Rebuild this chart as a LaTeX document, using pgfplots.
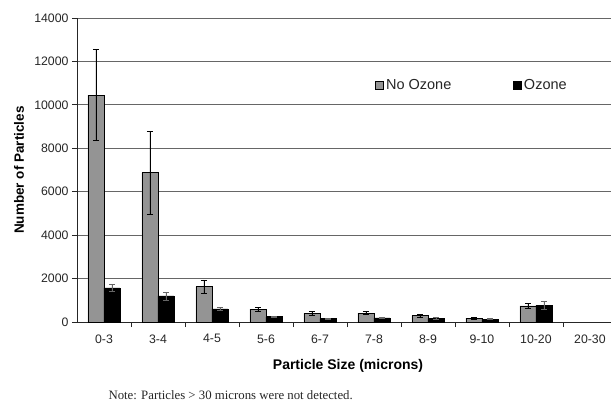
\documentclass[border=0pt]{standalone}
\usepackage{fontspec}
\setmainfont{Liberation Sans}
\newfontfamily\notefont{Liberation Serif}
\usepackage{pgfplots}
\pgfplotsset{compat=1.18}
\usepackage{pgfplotstable}

\pgfplotstableread{
x y e
0 10450 2100
1 6870 1900
2 1620 320
3 590 90
4 400 90
5 410 80
6 290 60
7 180 50
8 740 110
}\noozone
\pgfplotstableread{
x y e
0 1570 180
1 1200 180
2 600 60
3 240 30
4 150 20
5 190 30
6 170 30
7 130 20
8 770 180
}\ozone

\pgfplotsset{sqleg/.style={legend image code/.code={\draw[##1,draw=black,line width=0.6pt] (0pt,-4pt) rectangle (8pt,4pt);}}}

\begin{document}
\begin{tikzpicture}
\begin{axis}[
  scale only axis, width=534pt, height=304pt,
  xmin=-0.5, xmax=9.39, ymin=0, ymax=14000,
  clip=false,
  ybar=0pt, bar width=16pt,
  axis x line*=bottom, axis y line*=left,
  axis line style={-, black!85, line width=0.8pt},
  ytick={0,2000,...,14000},
  scaled y ticks=false,
  ymajorgrids,
  major grid style={black!60, line width=0.9pt},
  xtick={0,...,9},
  xticklabels={0-3,3-4,4-5,5-6,6-7,7-8,8-9,9-10,10-20,20-30},
  major x tick style={draw=none},
  minor xtick={0.5,1.5,...,8.5},
  minor x tick style={black!85, line width=0.8pt},
  tick align=outside,
  major tick length=5pt, minor tick length=5pt,
  y tick style={black!85, line width=0.8pt},
  /pgf/number format/1000 sep={},
  /pgf/number format/assume math mode=true,
  ticklabel style={font=\fontsize{12.3}{14}\selectfont, text=black!85},
  xticklabel style={yshift=-4pt},
  every axis y label/.style={at={(axis description cs:-0.1086,0.5)}, rotate=90, anchor=center, font=\fontsize{13.5}{15}\selectfont\bfseries},
  every axis x label/.style={at={(axis description cs:0.5075,-0.1447)}, anchor=center, font=\fontsize{14}{16}\selectfont\bfseries},
  ylabel={Number of Particles},
  xlabel={Particle Size (microns)},
  legend columns=-1,
  legend style={at={(axis description cs:0.553,0.78)}, anchor=west, draw=none, fill=none,
    font=\fontsize{14.5}{16}\selectfont, text=black!85,
    /tikz/every even column/.append style={column sep=60pt}},
]
\addplot[fill=black!42, draw=black, line width=0.7pt, sqleg,
  error bars/.cd, y dir=both, y explicit,
  error bar style={black, line width=0.7pt},
  error mark options={black, line width=0.7pt, rotate=90, mark size=3pt}]
  table[x=x, y=y, y error=e] {\noozone};
\addplot[fill=black, draw=black, line width=0.7pt, sqleg,
  error bars/.cd, y dir=both, y explicit,
  error bar style={black!60, line width=0.7pt},
  error mark options={black!60, line width=0.7pt, rotate=90, mark size=3pt}]
  table[x=x, y=y, y error=e] {\ozone};
\legend{No Ozone, Ozone}
\coordinate (O) at (rel axis cs:0,0);
\node[anchor=west, font=\notefont\fontsize{12.8}{14}\selectfont, text=black!85] at (axis description cs:0.0524,-0.240) {Note: Particles > 30 microns were not detected.};
\end{axis}
\pgfresetboundingbox
\useasboundingbox ([shift={(-77pt,-80pt)}]O) rectangle ([shift={(534pt,322pt)}]O);
\end{tikzpicture}
\end{document}
